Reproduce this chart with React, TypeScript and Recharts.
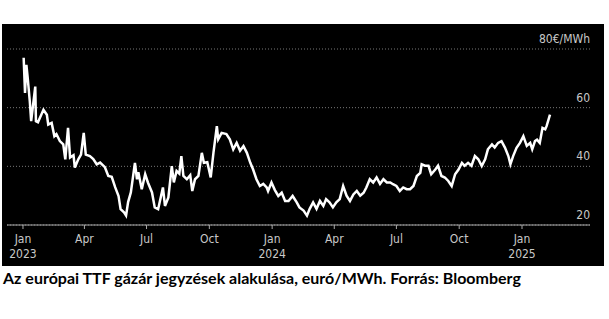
import React from "react";
import { LineChart, Line, XAxis, YAxis, CartesianGrid } from "recharts";

// days since 1 Jan 2023
const days = [
  1, 3, 5, 7, 10, 12, 18, 19, 22, 30, 35, 37, 42, 46, 49, 54, 59, 62, 66, 69,
  74, 76, 81, 85, 89, 92, 98, 103, 108, 113, 120, 125, 130, 135, 140, 143, 148,
  151, 154, 158, 164, 167, 169, 174, 179, 183, 189, 193, 198, 205, 208, 213,
  218, 221, 225, 229, 232, 235, 240, 245, 248, 252, 257, 262, 265, 270, 275,
  279, 284, 286, 291, 298, 303, 308, 313, 318, 323, 328, 333, 337, 342, 347,
  352, 357, 359, 364, 369, 374, 379, 384, 389, 395, 401, 405, 411, 416, 420,
  425, 430, 435, 440, 444, 449, 454, 459, 464, 469, 474, 479, 484, 489, 494,
  499, 503, 508, 513, 518, 523, 528, 533, 538, 542, 547, 552, 557, 562, 567,
  572, 577, 582, 584, 589, 594, 598, 604, 608, 613, 618, 623, 628, 633, 638,
  643, 647, 652, 657, 662, 667, 672, 677, 681, 687, 691, 696, 701, 706, 711,
  714, 718, 723, 728, 733, 738, 743, 746, 750, 753, 757, 761, 765, 767, 772,
];

// TTF front-month, EUR/MWh
const prices = [
  77.0, 65.0, 74.6, 70.0, 62.1, 55.4, 67.2, 55.4, 55.0, 59.3, 57.6, 54.2, 54.8,
  50.3, 51.0, 48.6, 47.5, 42.4, 53.1, 43.0, 43.8, 39.6, 42.4, 44.0, 51.4, 44.0,
  43.5, 42.5, 40.7, 41.3, 39.7, 36.7, 36.4, 32.9, 29.9, 25.4, 24.3, 23.2, 27.8,
  31.1, 41.2, 35.6, 38.0, 32.2, 37.3, 34.5, 31.1, 26.0, 25.4, 32.8, 26.5, 29.4,
  40.1, 34.5, 38.4, 37.5, 43.5, 36.7, 35.6, 37.0, 31.6, 35.6, 36.7, 44.6, 41.2,
  41.4, 36.2, 44.6, 53.7, 49.2, 51.4, 51.0, 49.2, 45.8, 48.0, 45.3, 46.9, 44.6,
  41.2, 39.0, 35.6, 33.3, 34.0, 32.8, 31.6, 34.5, 31.9, 29.9, 31.0, 28.2, 28.2,
  29.9, 27.7, 26.0, 24.9, 23.2, 25.5, 27.7, 25.5, 28.2, 26.5, 28.8, 27.7, 26.0,
  27.7, 28.8, 33.3, 30.0, 28.2, 30.4, 31.6, 30.0, 31.0, 32.8, 35.6, 34.5, 36.2,
  34.0, 35.6, 34.5, 34.5, 33.9, 33.3, 31.6, 32.8, 32.2, 32.2, 33.3, 36.7, 37.8,
  40.7, 40.2, 40.2, 37.3, 38.9, 40.2, 36.7, 36.2, 35.0, 33.3, 37.3, 38.9, 41.2,
  40.2, 41.2, 40.2, 43.5, 42.4, 40.1, 42.4, 45.8, 47.5, 46.4, 48.0, 48.6, 46.4,
  43.5, 40.7, 43.5, 46.3, 48.0, 50.3, 47.0, 48.0, 45.8, 48.6, 49.1, 48.0, 53.1,
  52.6, 53.7, 57.6,
];

const xTicks = [0, 90, 181, 273, 365, 456, 547, 639, 731];
const xTickLabels = ["Jan 2023", "Apr", "Jul", "Oct", "Jan 2024", "Apr", "Jul", "Oct", "Jan 2025"];
const yTicks = [20, 40, 60, 80];
const yTickLabels = ["20", "40", "60", "80€/MWh"];

const data = days.map((d, i) => ({ day: d, price: prices[i] }));

const labelFont = "'DejaVu Sans Condensed', 'Liberation Sans Narrow', 'Liberation Sans', sans-serif";

const XTick = (props: any) => {
  const { x, y, payload } = props;
  const idx = xTicks.indexOf(payload.value);
  const [m, yr] = (xTickLabels[idx] || "").split(" ");
  return (
    <text x={x} y={y} textAnchor="middle" fill="#c8c8c8" fontSize={12} fontFamily={labelFont}>
      <tspan x={x} dy={12}>{m}</tspan>
      {yr && <tspan x={x} dy={15}>{yr}</tspan>}
    </text>
  );
};

const YTick = (props: any) => {
  const { y, payload } = props;
  const idx = yTicks.indexOf(payload.value);
  return (
    <text x={588} y={y - 6} textAnchor="end" fill="#c8c8c8" fontSize={12} fontFamily={labelFont}>
      {yTickLabels[idx]}
    </text>
  );
};

export default function App() {
  return (
    <div style={{ position: "absolute", left: 0, top: 0, width: 609, height: 319, background: "#fff" }}>
      <div style={{ position: "absolute", left: 2, top: 24, width: 602, height: 242, background: "#000" }}>
        <LineChart
          width={602}
          height={242}
          data={data}
          margin={{ top: 25, right: 13, left: 5, bottom: 5 }}
        >
          <CartesianGrid vertical={false} stroke="#777" strokeDasharray="1 2" />
          <XAxis
            dataKey="day"
            type="number"
            domain={[-23.4, 830.6]}
            ticks={xTicks}
            interval={0}
            axisLine={{ stroke: "#aaa" }}
            tickLine={{ stroke: "#aaa" }}
            tickSize={4}
            height={36}
            tick={<XTick />}
          />
          <YAxis
            orientation="right"
            domain={[20, 80]}
            ticks={yTicks}
            interval={0}
            width={1}
            axisLine={false}
            tickLine={false}
            tick={<YTick />}
          />
          <Line
            dataKey="price"
            stroke="#fff"
            strokeWidth={2.5}
            dot={false}
            type="linear"
            isAnimationActive={false}
          />
        </LineChart>
      </div>
      <div
        style={{
          position: "absolute",
          left: 3,
          top: 268,
          fontFamily: "Lato, 'Open Sans', sans-serif",
          fontWeight: 700,
          fontSize: 16,
          color: "#000",
          whiteSpace: "nowrap",
        }}
      >
        Az európai TTF gázár jegyzések alakulása, euró/MWh. Forrás: Bloomberg
      </div>
    </div>
  );
}
